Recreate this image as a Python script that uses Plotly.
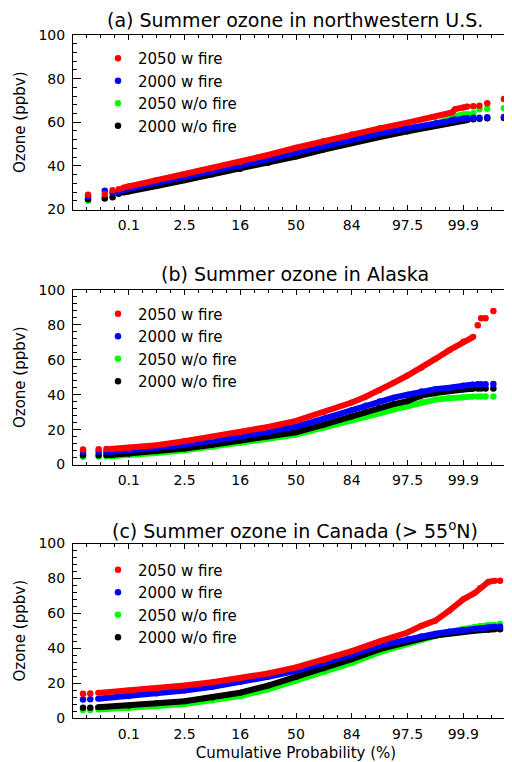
import plotly.graph_objects as go

# ---------------- data ----------------
PROB_TICK_Z = [-3, -2, -1, 0, 1, 2, 3]
PROB_TICK_TEXT = ["0.1", "2.5", "16", "50", "84", "97.5", "99.9"]
SERIES_NAMES = ["2050 w fire", "2000 w fire", "2050 w/o fire", "2000 w/o fire"]
SERIES_COLORS = ["#ff0000", "#0000ff", "#00ff00", "#000000"]
PANEL_TITLES = [
    "(a) Summer ozone in northwestern U.S.",
    "(b) Summer ozone in Alaska",
    "(c) Summer ozone in Canada (&gt; 55<sup>o</sup>N)",
]

# Panel (a): northwestern U.S.  (x = normal quantile of cumulative probability)
A_BODY_Z = [-3.1, -3.0, -2.5, -2.0, -1.5, -1.0, -0.5, 0.0, 0.5, 1.0, 1.5, 2.0, 2.5, 2.8, 2.85, 3.0, 3.08]
A_RED_BODY = [30.0, 30.7, 33.5, 36.3, 39.0, 41.8, 45.0, 48.3, 51.5, 54.5, 57.2, 59.8, 62.5, 64.5, 66.0, 66.8, 67.2]
A_BLUE_BODY = [28.8, 29.5, 32.2, 34.8, 37.4, 40.0, 43.0, 46.1, 49.2, 52.2, 54.8, 57.2, 59.5, 61.2, 61.4, 61.8, 62.0]
A_GREEN_BODY = [28.3, 28.8, 31.4, 34.0, 36.6, 39.2, 42.1, 45.1, 48.3, 51.2, 53.9, 56.5, 59.3, 62.0, 62.8, 63.6, 63.8]
A_BLACK_BODY = [27.8, 28.2, 30.8, 33.4, 36.0, 38.6, 41.3, 44.3, 47.5, 50.5, 53.2, 55.8, 58.3, 60.0, 60.3, 60.8, 61.0]
A_TAIL_Z = [-3.73, -3.43, -3.29, -3.18, 3.18, 3.29, 3.43, 3.73]
A_RED_TAIL = [26.8, 27.0, 28.8, 29.3, 67.3, 67.6, 68.7, 70.7]
A_BLUE_TAIL = [25.8, 28.6, 27.8, 28.3, 62.1, 62.1, 62.3, 62.4]
A_GREEN_TAIL = [24.0, 25.5, 27.1, 27.8, 64.1, 66.0, 66.2, 66.4]
A_BLACK_TAIL = [24.7, 25.1, 25.6, 27.2, 61.4, 61.6, 61.8, 62.0]

# Panel (b): Alaska
B_BODY_Z = [-3.28, -3.0, -2.5, -2.0, -1.5, -1.0, -0.5, 0.0, 0.5, 1.0, 1.25, 1.5, 1.75, 2.0, 2.25, 2.5, 2.75, 3.0, 3.18]
B_RED_BODY = [9.0, 9.6, 11.0, 13.4, 15.9, 18.5, 21.5, 25.0, 30.0, 35.5, 38.8, 42.5, 46.8, 51.0, 55.5, 60.5, 65.5, 70.5, 73.2]
B_BLUE_BODY = [7.4, 8.0, 9.6, 11.3, 13.5, 16.0, 18.8, 21.7, 26.3, 31.3, 33.8, 36.2, 38.3, 40.0, 42.0, 43.2, 44.0, 45.3, 45.8]
B_GREEN_BODY = [4.9, 5.3, 6.6, 8.1, 10.1, 12.5, 14.8, 17.2, 21.0, 25.3, 27.3, 29.3, 31.5, 33.5, 36.0, 37.2, 38.0, 38.6, 38.9]
B_BLACK_BODY = [5.6, 6.2, 7.6, 9.2, 11.3, 13.8, 16.0, 18.5, 22.8, 27.5, 30.0, 32.5, 34.6, 36.3, 39.5, 40.9, 42.2, 43.0, 43.4]
B_TAIL_Z = [-3.82, -3.54, -3.40, -3.32, 3.26, 3.32, 3.40, 3.54, 3.81]
B_RED_TAIL = [8.6, 8.8, 8.9, 8.9, 79.8, 83.8, 83.8, 88.0, 91.4]
B_BLUE_TAIL = [7.2, 7.2, 7.3, 7.3, 46.0, 46.0, 46.0, 46.1, 46.9]
B_GREEN_TAIL = [4.5, 4.6, 4.7, 4.8, 38.9, 38.9, 38.9, 39.0, 39.4]
B_BLACK_TAIL = [5.3, 5.3, 5.4, 5.5, 43.5, 43.5, 43.5, 43.6, 44.0]

# Panel (c): Canada (> 55N)
C_BODY_Z = [-3.55, -3.0, -2.5, -2.0, -1.5, -1.0, -0.5, 0.0, 0.5, 1.0, 1.5, 2.0, 2.25, 2.5, 2.75, 3.0, 3.2, 3.3, 3.45, 3.57]
C_RED_BODY = [14.4, 15.8, 17.2, 18.6, 20.5, 22.7, 25.5, 29.0, 33.3, 38.3, 43.9, 49.0, 52.8, 55.8, 61.5, 68.0, 71.5, 74.5, 78.0, 78.7]
C_BLUE_BODY = [11.0, 12.4, 14.0, 15.8, 17.9, 20.6, 23.6, 27.0, 31.4, 36.2, 41.5, 45.2, 46.8, 48.3, 49.5, 50.4, 51.2, 51.6, 52.0, 52.3]
C_GREEN_BODY = [4.8, 5.6, 6.8, 8.0, 10.0, 12.6, 16.4, 21.5, 26.2, 31.5, 37.7, 42.5, 44.8, 47.0, 49.3, 51.0, 52.3, 52.8, 53.2, 53.3]
C_BLACK_BODY = [6.1, 7.0, 8.4, 9.6, 11.8, 14.5, 18.6, 23.5, 28.5, 33.7, 39.5, 43.8, 45.5, 47.2, 48.5, 49.5, 50.0, 50.3, 50.6, 50.8]
C_TAIL_Z = [-3.82, -3.69, 3.66, 3.79]
C_RED_TAIL = [13.9, 14.1, 78.7, 79.0]
C_BLUE_TAIL = [10.6, 10.7, 52.3, 52.5]
C_GREEN_TAIL = [4.6, 4.6, 53.8, 54.5]
C_BLACK_TAIL = [5.9, 5.9, 50.9, 51.0]

X_RANGE = [-4.0, 4.0]
Y_RANGES = [[20, 100], [0, 100], [0, 100]]

# ---------------- geometry ----------------
FONT = "DejaVu Sans"
PAGE_MARGIN_PX = 8          # default <body> margin of the page the figure sits in
W, H = 512, 754
LEFT = 65                   # figure px of the left frame
PLOT_TOP = [27.0, 282.0, 535.5]   # figure px of each frame top
PLOT_HGT = 174.5
TITLE_CY = [11.7, 265.7, 521.7]
LEGEND_TOP = [34.0, 289.5, 545.5]
LEGEND_LEFT = 90
TITLE_CX = 287
PLOT_W = W - LEFT - 1


def py(px):
    return 1 - px / H


panels = [
    (A_BODY_Z, [A_RED_BODY, A_BLUE_BODY, A_GREEN_BODY, A_BLACK_BODY],
     A_TAIL_Z, [A_RED_TAIL, A_BLUE_TAIL, A_GREEN_TAIL, A_BLACK_TAIL]),
    (B_BODY_Z, [B_RED_BODY, B_BLUE_BODY, B_GREEN_BODY, B_BLACK_BODY],
     B_TAIL_Z, [B_RED_TAIL, B_BLUE_TAIL, B_GREEN_TAIL, B_BLACK_TAIL]),
    (C_BODY_Z, [C_RED_BODY, C_BLUE_BODY, C_GREEN_BODY, C_BLACK_BODY],
     C_TAIL_Z, [C_RED_TAIL, C_BLUE_TAIL, C_GREEN_TAIL, C_BLACK_TAIL]),
]
DRAW_ORDER = [2, 3, 1, 0]  # green, black, blue, red (red on top)

fig = go.Figure()
legend_names = ["legend", "legend2", "legend3"]
for p, (bz, bodies, tz, tails) in enumerate(panels):
    sfx = "" if p == 0 else str(p + 1)
    for s in DRAW_ORDER:
        fig.add_trace(go.Scatter(
            x=bz, y=bodies[s], mode="lines+markers",
            line=dict(color=SERIES_COLORS[s], width=6),
            marker=dict(color=SERIES_COLORS[s], size=6),
            showlegend=False, hoverinfo="skip",
            xaxis="x" + sfx, yaxis="y" + sfx,
        ))
        fig.add_trace(go.Scatter(
            x=tz, y=tails[s], mode="markers",
            marker=dict(color=SERIES_COLORS[s], size=6.5),
            name=SERIES_NAMES[s], legend=legend_names[p], legendrank=s + 1,
            xaxis="x" + sfx, yaxis="y" + sfx,
        ))

layout = dict(
    width=W, height=H,
    margin=dict(l=LEFT, r=1, t=0, b=0, autoexpand=False),
    paper_bgcolor="white", plot_bgcolor="white",
    font=dict(family=FONT, color="black", size=14),
    annotations=[],
)
for p in range(3):
    sfx = "" if p == 0 else str(p + 1)
    top = PLOT_TOP[p]
    bot = top + PLOT_HGT
    layout["xaxis" + sfx] = dict(
        domain=[0, 1], anchor="y" + sfx, range=X_RANGE,
        tickmode="array", tickvals=PROB_TICK_Z, ticktext=PROB_TICK_TEXT,
        ticks="inside", ticklen=5, tickcolor="black",
        minor=dict(tickmode="linear", tick0=0, dtick=0.25, ticks="inside", ticklen=3, tickcolor="black"),
        showline=True, linecolor="black", linewidth=1, mirror="ticks",
        showgrid=False, zeroline=False, ticklabelstandoff=3, automargin=False,
        tickfont=dict(family=FONT, size=14, color="black"),
    )
    if p == 2:
        layout["xaxis" + sfx]["title"] = dict(text="Cumulative Probability (%)",
                                              font=dict(family=FONT, size=15), standoff=6)
    layout["yaxis" + sfx] = dict(
        domain=[py(bot), py(top)], anchor="x" + sfx, range=Y_RANGES[p],
        tickmode="linear", tick0=0, dtick=20,
        ticks="inside", ticklen=8, tickcolor="black",
        minor=dict(tickmode="linear", tick0=0, dtick=4, ticks="inside", ticklen=4, tickcolor="black"),
        showline=True, linecolor="black", linewidth=1, mirror="ticks",
        showgrid=False, zeroline=False, ticklabelstandoff=4, automargin=False,
        tickfont=dict(family=FONT, size=14, color="black"),
        title=dict(text="Ozone (ppbv)", font=dict(family=FONT, size=15), standoff=9),
    )
    layout[legend_names[p]] = dict(
        x=(LEGEND_LEFT - LEFT) / PLOT_W, y=py(LEGEND_TOP[p]),
        xanchor="left", yanchor="top",
        font=dict(family=FONT, size=15, color="black"),
        bgcolor="rgba(0,0,0,0)", borderwidth=0, traceorder="normal",
    )
    layout["annotations"].append(dict(
        text=PANEL_TITLES[p], xref="paper", yref="paper",
        x=(TITLE_CX - LEFT) / PLOT_W, y=py(TITLE_CY[p]),
        xanchor="center", yanchor="middle", showarrow=False,
        font=dict(family=FONT, size=19, color="black"),
    ))

fig.update_layout(**layout)
fig.write_html("out.html")
